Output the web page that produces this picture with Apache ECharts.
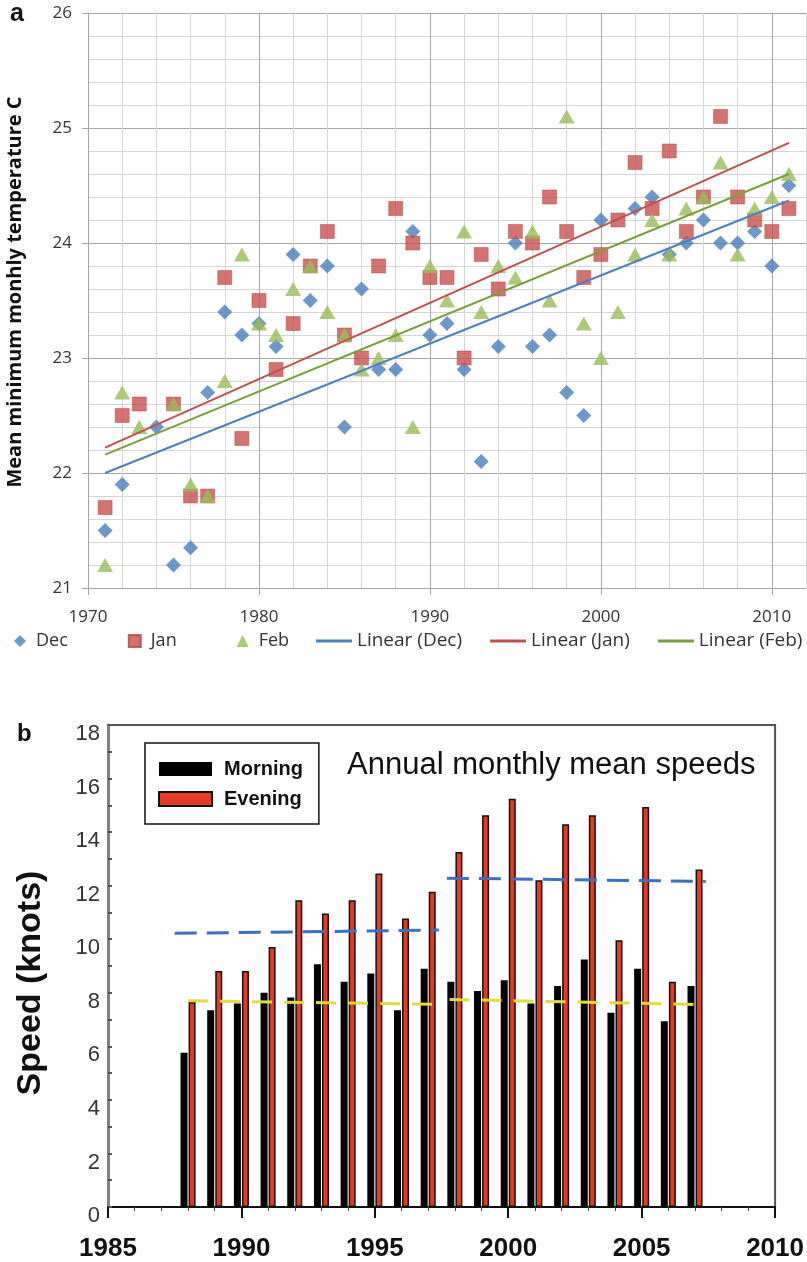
<!DOCTYPE html>
<html><head><meta charset="utf-8">
<script src="https://cdn.jsdelivr.net/npm/echarts@6/dist/echarts.min.js"></script>
<style>html,body{margin:0;padding:0;background:#fff}#c{width:807px;height:1262px}</style>
</head><body><div id="c"></div>
<script>
// ---- Panel a data ----
const yearsA = [1971,1972,1973,1974,1975,1976,1977,1978,1979,1980,1981,1982,1983,1984,1985,1986,1987,1988,1989,1990,1991,1992,1993,1994,1995,1996,1997,1998,1999,2000,2001,2002,2003,2004,2005,2006,2007,2008,2009,2010,2011];
const decVals = [21.5,21.9,null,22.4,21.2,21.35,22.7,23.4,23.2,23.3,23.1,23.9,23.5,23.8,22.4,23.6,22.9,22.9,24.1,23.2,23.3,22.9,22.1,23.1,24.0,23.1,23.2,22.7,22.5,24.2,null,24.3,24.4,23.9,24.0,24.2,24.0,24.0,24.1,23.8,24.5];
const janVals = [21.7,22.5,22.6,null,22.6,21.8,21.8,23.7,22.3,23.5,22.9,23.3,23.8,24.1,23.2,23.0,23.8,24.3,24.0,23.7,23.7,23.0,23.9,23.6,24.1,24.0,24.4,24.1,23.7,23.9,24.2,24.7,24.3,24.8,24.1,24.4,25.1,24.4,24.2,24.1,24.3];
const febVals = [21.2,22.7,22.4,null,22.6,21.9,21.8,22.8,23.9,23.3,23.2,23.6,23.8,23.4,23.2,22.9,23.0,23.2,22.4,23.8,23.5,24.1,23.4,23.8,23.7,24.1,23.5,25.1,23.3,23.0,23.4,23.9,24.2,23.9,24.3,24.4,24.7,23.9,24.3,24.4,24.6];
const trendYears = [1971, 2011];
const trendDec = [22.0, 24.37];
const trendJan = [22.22, 24.87];
const trendFeb = [22.16, 24.6];
const xTicksA = [1970,1980,1990,2000,2010];
const yTicksA = [21,22,23,24,25,26];

// ---- Panel b data ----
const yearsB = [1988,1989,1990,1991,1992,1993,1994,1995,1996,1997,1998,1999,2000,2001,2002,2003,2004,2005,2006,2007];
const morning = [5.76,7.35,7.6,8.0,7.82,9.07,8.41,8.72,7.35,8.9,8.41,8.07,8.47,7.6,8.25,9.24,7.25,8.9,6.94,8.25];
const evening = [7.66,8.81,8.81,9.71,11.46,10.96,11.46,12.45,10.77,11.77,13.26,14.63,15.25,12.2,14.29,14.63,9.96,14.94,8.41,12.6];
const eveMean1X = [1987.5, 1997.4], eveMean1Y = [10.22, 10.34];
const eveMean2X = [1997.7, 2007.4], eveMean2Y = [12.28, 12.16];
const morMean1X = [1988.0, 1997.3], morMean1Y = [7.70, 7.57];
const morMean2X = [1997.8, 2007.2], morMean2Y = [7.75, 7.56];
const yTicksB = [0,2,4,6,8,10,12,14,16,18];

const pairs = (xs, ys) => xs.map((x, i) => [x, ys[i]]).filter(p => p[1] != null);
const plain = v => String(v);

const FA = 'Open Sans';
const FB = 'Liberation Sans';
const major = '#a6a6a6', minor = '#d6d6d6';
const gridColors = [major, minor, minor, minor, minor];

const chart = echarts.init(document.getElementById('c'), null, {renderer: 'canvas'});
const option = {
  animation: false,
  backgroundColor: '#fff',
  grid: [
    {left: 88, top: 13, right: 1, bottom: 674},
    {left: 108, top: 725, right: 31, bottom: 55, show: true, borderColor: '#555', borderWidth: 2}
  ],
  xAxis: [
    {type: 'value', gridIndex: 0, min: 1970, max: 2012, interval: 2,
     axisLine: {show: true, lineStyle: {color: major}},
     axisTick: {show: false}, axisLabel: {show: false},
     splitLine: {show: true, lineStyle: {color: gridColors, width: 1}}},
    {type: 'value', gridIndex: 1, min: 1985, max: 2010, interval: 5,
     axisLine: {show: true, onZero: false, lineStyle: {color: '#111', width: 2}},
     axisTick: {show: true, length: 11, lineStyle: {color: '#111', width: 2}},
     minorTick: {show: true, splitNumber: 5, length: 4, lineStyle: {color: '#444', width: 1}},
     axisLabel: {margin: 29, fontSize: 26, fontWeight: 'bold', fontFamily: FB, color: '#111', formatter: plain},
     splitLine: {show: false}},
    {type: 'value', gridIndex: 0, min: 1970, max: 2012, position: 'bottom',
     axisLine: {show: false},
     axisTick: {show: true, customValues: xTicksA, length: 7, lineStyle: {color: major}},
     axisLabel: {customValues: xTicksA, margin: 21, fontSize: 17, fontFamily: FA, color: '#333', formatter: plain},
     splitLine: {show: false}}
  ],
  yAxis: [
    {type: 'value', gridIndex: 0, min: 21, max: 26, interval: 0.2,
     axisLine: {show: true, lineStyle: {color: major}},
     axisTick: {show: false}, axisLabel: {show: false},
     splitLine: {show: true, lineStyle: {color: gridColors, width: 1}}},
    {type: 'value', gridIndex: 1, min: 0, max: 18, interval: 1,
     axisLine: {show: true, lineStyle: {color: '#808080', width: 3}},
     axisTick: {show: true, inside: true, length: 4, lineStyle: {color: '#555', width: 2}},
     axisLabel: {customValues: yTicksB, margin: 8, fontSize: 22, fontFamily: FB, color: '#333', verticalAlign: 'top', lineHeight: 18},
     splitLine: {show: false}},
    {type: 'value', gridIndex: 0, min: 21, max: 26, position: 'left',
     axisLine: {show: false},
     axisTick: {show: true, customValues: yTicksA, length: 6, lineStyle: {color: major}},
     axisLabel: {customValues: yTicksA, margin: 16, fontSize: 17, fontFamily: FA, color: '#333', formatter: plain},
     splitLine: {show: false}}
  ],
  legend: [
    {data: [{name: 'Dec', icon: 'diamond'}, {name: 'Jan', icon: 'rect'}, {name: 'Feb', icon: 'triangle'}],
     left: 14, top: 631, padding: 0, itemWidth: 12, itemHeight: 12, itemGap: 60,
     textStyle: {fontSize: 18, lineHeight: 20, fontFamily: FA, color: '#333', padding: [0, 0, 0, 5]}},
    {data: ['Linear (Dec)', 'Linear (Jan)', 'Linear (Feb)'], icon: 'rect',
     left: 316, top: 631, padding: 0, itemWidth: 36, itemHeight: 3, itemGap: 28,
     textStyle: {fontSize: 19, lineHeight: 20, fontFamily: FA, color: '#333', padding: [0, 0, 0, 0]}},
    {data: [{name: 'Morning', icon: 'rect'}, {name: 'Evening', icon: 'rect'}], orient: 'vertical', left: 145, top: 743,
     padding: [15, 16, 14, 13], itemWidth: 53, itemHeight: 14, itemGap: 8,
     borderColor: '#111', borderWidth: 1.5, backgroundColor: '#fff',
     textStyle: {fontSize: 20, fontWeight: 'bold', lineHeight: 22, fontFamily: FB, color: '#111', padding: [0, 0, 0, 7]}}
  ],
  graphic: [
    {type: 'text', left: 10, top: 2, style: {text: 'a', fontSize: 25, fontWeight: 'bold', fontFamily: FB, fill: '#111'}},
    {type: 'text', x: 15, y: 292, rotation: Math.PI / 2,
     style: {text: 'Mean minimum monhly temperature C', fontSize: 20, fontWeight: 'bold', fontFamily: FA, fill: '#111', align: 'center', verticalAlign: 'middle'}},
    {type: 'text', left: 17, top: 722, style: {text: 'b', fontSize: 24, fontWeight: 'bold', fontFamily: FB, fill: '#111'}},
    {type: 'text', x: 31, y: 983, rotation: Math.PI / 2,
     style: {text: 'Speed (knots)', fontSize: 34, fontWeight: 'bold', fontFamily: FB, fill: '#111', align: 'center', verticalAlign: 'middle'}},
    {type: 'text', x: 347, y: 765,
     style: {text: 'Annual monthly mean speeds', fontSize: 31, fontFamily: FB, fill: '#111', align: 'left', verticalAlign: 'middle'}}
  ],
  series: [
    {name: 'Dec', type: 'scatter', xAxisIndex: 0, yAxisIndex: 0, symbol: 'diamond', symbolSize: 15,
     itemStyle: {color: '#4a7ebb'}, data: pairs(yearsA, decVals), z: 3},
    {name: 'Jan', type: 'scatter', xAxisIndex: 0, yAxisIndex: 0, symbol: 'rect', symbolSize: 14,
     itemStyle: {color: '#c8504d', borderColor: '#b24744', borderWidth: 0.6}, data: pairs(yearsA, janVals), z: 4},
    {name: 'Feb', type: 'scatter', xAxisIndex: 0, yAxisIndex: 0, symbol: 'triangle', symbolSize: [16, 14],
     itemStyle: {color: '#9bbb59'}, data: pairs(yearsA, febVals), z: 5},
    {name: 'Linear (Dec)', type: 'line', xAxisIndex: 0, yAxisIndex: 0, symbol: 'none',
     lineStyle: {color: '#4f81bd', width: 2}, itemStyle: {color: '#4f81bd'}, data: pairs(trendYears, trendDec), z: 6},
    {name: 'Linear (Jan)', type: 'line', xAxisIndex: 0, yAxisIndex: 0, symbol: 'none',
     lineStyle: {color: '#c0504d', width: 2}, itemStyle: {color: '#c0504d'}, data: pairs(trendYears, trendJan), z: 6},
    {name: 'Linear (Feb)', type: 'line', xAxisIndex: 0, yAxisIndex: 0, symbol: 'none',
     lineStyle: {color: '#77a03a', width: 2}, itemStyle: {color: '#77a03a'}, data: pairs(trendYears, trendFeb), z: 6},
    {name: 'Morning', type: 'bar', xAxisIndex: 1, yAxisIndex: 1, barWidth: 7, barGap: '15%',
     itemStyle: {color: '#000'}, data: pairs(yearsB, morning), z: 2},
    {name: 'Evening', type: 'bar', xAxisIndex: 1, yAxisIndex: 1, barWidth: 7, barGap: '15%',
     itemStyle: {color: '#e63b22', borderColor: '#111', borderWidth: 1.5}, data: pairs(yearsB, evening), z: 2},
    {name: 'eveMean1', type: 'line', xAxisIndex: 1, yAxisIndex: 1, symbol: 'none',
     lineStyle: {color: '#3d6fc2', width: 3, type: [22, 10]}, data: pairs(eveMean1X, eveMean1Y), z: 4},
    {name: 'eveMean2', type: 'line', xAxisIndex: 1, yAxisIndex: 1, symbol: 'none',
     lineStyle: {color: '#3d6fc2', width: 3, type: [22, 10]}, data: pairs(eveMean2X, eveMean2Y), z: 4},
    {name: 'morMean1', type: 'line', xAxisIndex: 1, yAxisIndex: 1, symbol: 'none',
     lineStyle: {color: '#e2dc3a', width: 3, type: [20, 12]}, data: pairs(morMean1X, morMean1Y), z: 4},
    {name: 'morMean2', type: 'line', xAxisIndex: 1, yAxisIndex: 1, symbol: 'none',
     lineStyle: {color: '#e2dc3a', width: 3, type: [20, 12]}, data: pairs(morMean2X, morMean2Y), z: 4}
  ]
};
chart.setOption(option);
</script>
</body></html>
